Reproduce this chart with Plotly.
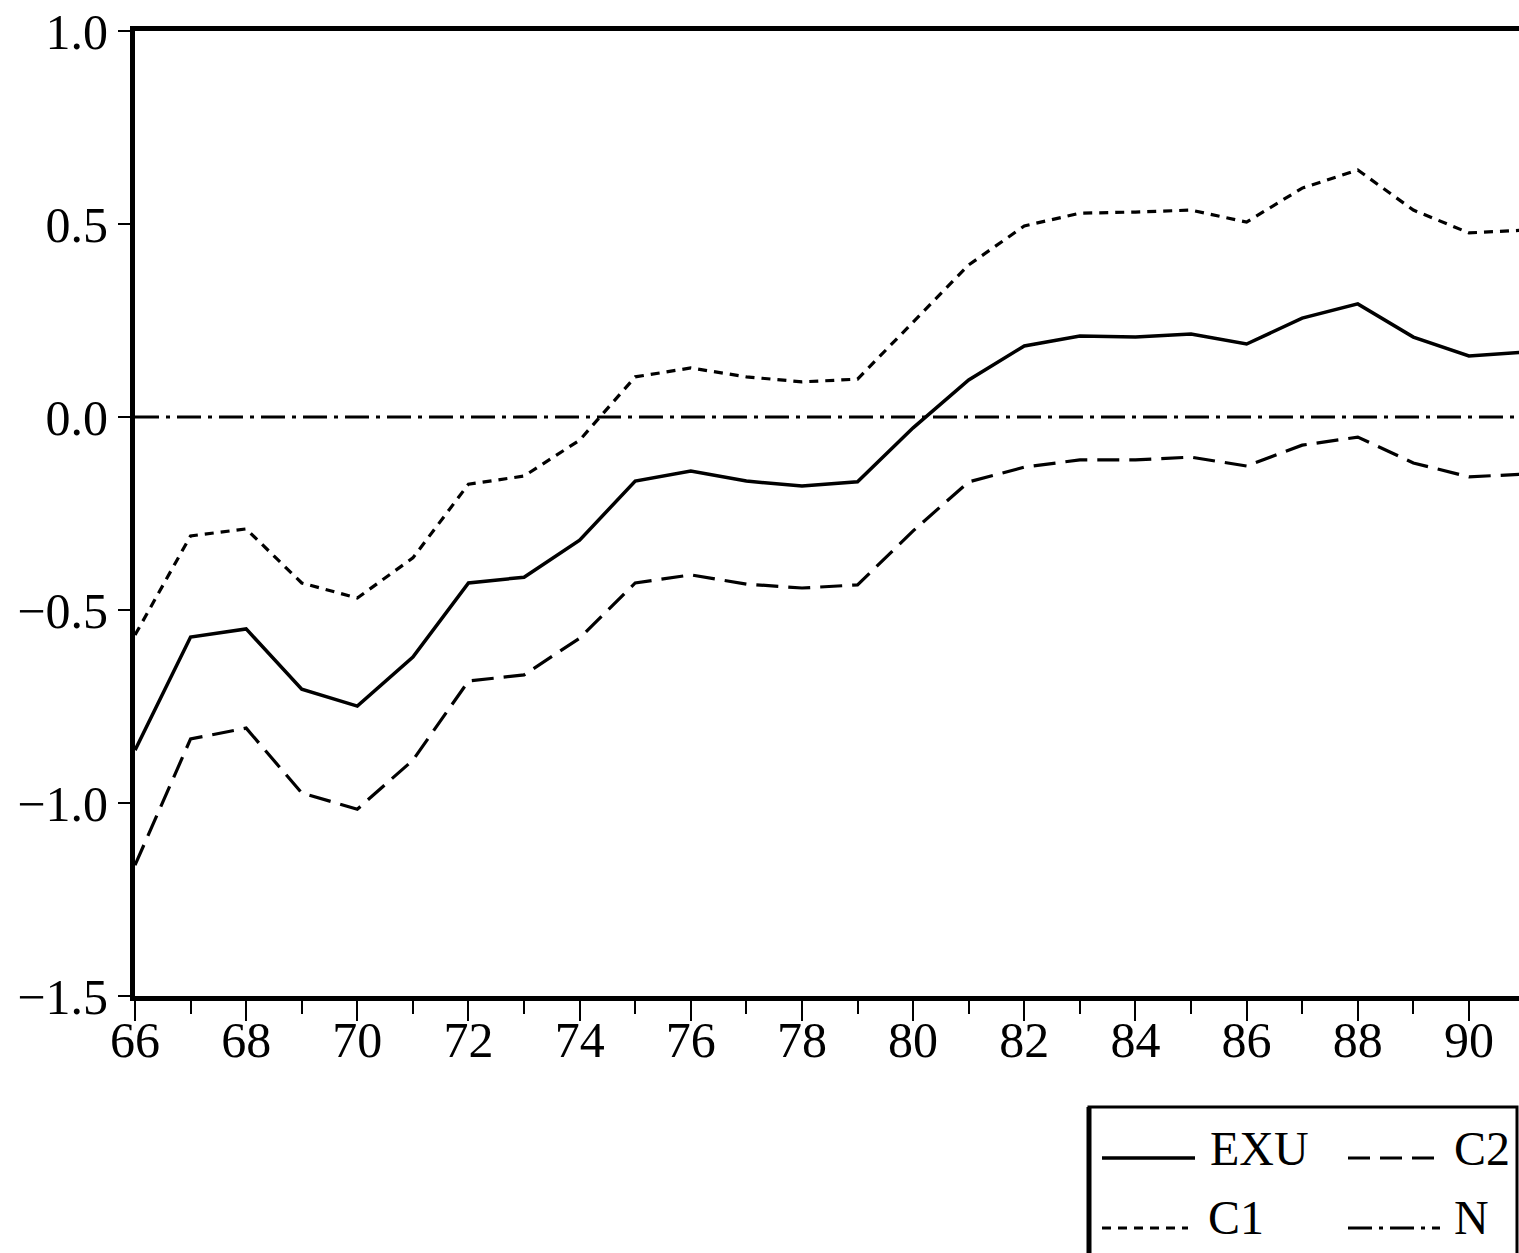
import plotly.graph_objects as go

# ---------------- data ----------------
years = [66, 67, 68, 69, 70, 71, 72, 73, 74, 75, 76, 77, 78,
         79, 80, 81, 82, 83, 84, 85, 86, 87, 88, 89, 90, 91]

exu = [-0.863, -0.570, -0.549, -0.705, -0.749, -0.622, -0.430, -0.415, -0.319,
       -0.166, -0.140, -0.166, -0.179, -0.168, -0.028, 0.096, 0.184, 0.210,
       0.207, 0.215, 0.189, 0.256, 0.293, 0.207, 0.158, 0.168]

c1 = [-0.565, -0.308, -0.290, -0.430, -0.469, -0.365, -0.174, -0.153, -0.060,
      0.104, 0.127, 0.104, 0.091, 0.098, 0.246, 0.394, 0.495, 0.528,
      0.531, 0.536, 0.505, 0.593, 0.640, 0.536, 0.477, 0.484]

c2 = [-1.161, -0.834, -0.806, -0.974, -1.016, -0.889, -0.684, -0.668, -0.573,
      -0.430, -0.409, -0.433, -0.443, -0.435, -0.295, -0.168, -0.130, -0.111,
      -0.111, -0.104, -0.127, -0.073, -0.052, -0.119, -0.155, -0.148]

n_line = [0.0, 0.0, 0.0, 0.0, 0.0, 0.0, 0.0, 0.0, 0.0, 0.0, 0.0, 0.0, 0.0,
          0.0, 0.0, 0.0, 0.0, 0.0, 0.0, 0.0, 0.0, 0.0, 0.0, 0.0, 0.0, 0.0]

series_names = ["EXU", "C2", "C1", "N"]

x_tickvals = [66, 68, 70, 72, 74, 76, 78, 80, 82, 84, 86, 88, 90]
x_ticktext = ["66", "68", "70", "72", "74", "76", "78", "80", "82", "84", "86", "88", "90"]
y_tickvals = [1.0, 0.5, 0.0, -0.5, -1.0, -1.5]
y_ticktext = ["1.0", "0.5", "0.0", "\u22120.5", "\u22121.0", "\u22121.5"]

# ---------------- styles ----------------
FONT = "Liberation Serif"
W, H = 1519, 1253
ML, MT = 135, 31
PW = W - ML
PH = 965
MB = H - MT - PH

dash_styles = {
    "EXU": "solid",
    "C2": "22px,10px",
    "C1": "9px,7px",
    "N": "24px,7px,4px,7px",
}
widths = {"EXU": 3.5, "C2": 3.2, "C1": 3.2, "N": 2.8}

fig = go.Figure()
data_map = {"EXU": exu, "C2": c2, "C1": c1, "N": n_line}
for name in ["N", "C2", "C1", "EXU"]:
    fig.add_trace(go.Scatter(
        x=years, y=data_map[name], mode="lines", name=name,
        line=dict(color="black", width=widths[name], dash=dash_styles[name]),
        showlegend=False,
    ))

# ---------------- manual legend (box, samples, labels) ----------------
def px_to_paper_x(px):
    return (px - ML) / PW

def px_to_paper_y(py):
    return (MT + PH - py) / PH

shapes = []
shapes.append(dict(type="rect", xref="paper", yref="paper",
                   x0=px_to_paper_x(1089), x1=px_to_paper_x(1517),
                   y0=px_to_paper_y(1275), y1=px_to_paper_y(1107),
                   line=dict(color="black", width=3), fillcolor="white", layer="above"))
shapes.append(dict(type="line", xref="paper", yref="paper",
                   x0=px_to_paper_x(1089), x1=px_to_paper_x(1089),
                   y0=px_to_paper_y(1275), y1=px_to_paper_y(1107),
                   line=dict(color="black", width=5), layer="above"))

legend_layout = {
    "EXU": (1102, 1195, 1158, 1208, 1148),
    "C2": (1348, 1442, 1158, 1452, 1148),
    "C1": (1102, 1188, 1228, 1206, 1217),
    "N": (1348, 1440, 1228, 1452, 1217),
}
annotations = []
for name in series_names:
    lx0, lx1, ly, tx, ty = legend_layout[name]
    shapes.append(dict(type="line", xref="paper", yref="paper",
                       x0=px_to_paper_x(lx0), x1=px_to_paper_x(lx1),
                       y0=px_to_paper_y(ly), y1=px_to_paper_y(ly),
                       line=dict(color="black", width=widths[name], dash=dash_styles[name]),
                       layer="above"))
    annotations.append(dict(xref="paper", yref="paper",
                            x=px_to_paper_x(tx), y=px_to_paper_y(ty),
                            text=name, showarrow=False, xanchor="left", yanchor="middle",
                            font=dict(family=FONT, size=48, color="black")))

fig.update_layout(
    width=W, height=H,
    margin=dict(l=ML, r=0, t=MT, b=MB, pad=0),
    paper_bgcolor="white", plot_bgcolor="white",
    font=dict(family=FONT, size=50, color="black"),
    showlegend=False,
    shapes=shapes,
    annotations=annotations,
)

fig.update_xaxes(
    range=[66, 66 + (1519 - 137) / 55.5],
    tickmode="array", tickvals=x_tickvals, ticktext=x_ticktext,
    ticks="outside", ticklen=20, tickwidth=2, tickcolor="black",
    minor=dict(dtick=1, tick0=66, ticks="outside", ticklen=13, tickwidth=2, tickcolor="black"),
    showline=True, linewidth=5, linecolor="black", mirror=True,
    showgrid=False, zeroline=False,
    ticklabelstandoff=-24, ticklabeloverflow="allow",
    tickfont=dict(family=FONT, size=50, color="black"),
)
fig.update_yaxes(
    range=[-1.5, 1.0],
    tickmode="array", tickvals=y_tickvals, ticktext=y_ticktext,
    ticks="outside", ticklen=12, tickwidth=2, tickcolor="black",
    showline=True, linewidth=5, linecolor="black", mirror=False,
    showgrid=False, zeroline=False,
    ticklabelstandoff=0, ticklabeloverflow="allow",
    tickfont=dict(family=FONT, size=50, color="black"),
)

fig.write_html(
    "out.html",
    config={"displayModeBar": False},
    post_script="document.body.style.margin='0';document.body.style.overflow='hidden';",
)
